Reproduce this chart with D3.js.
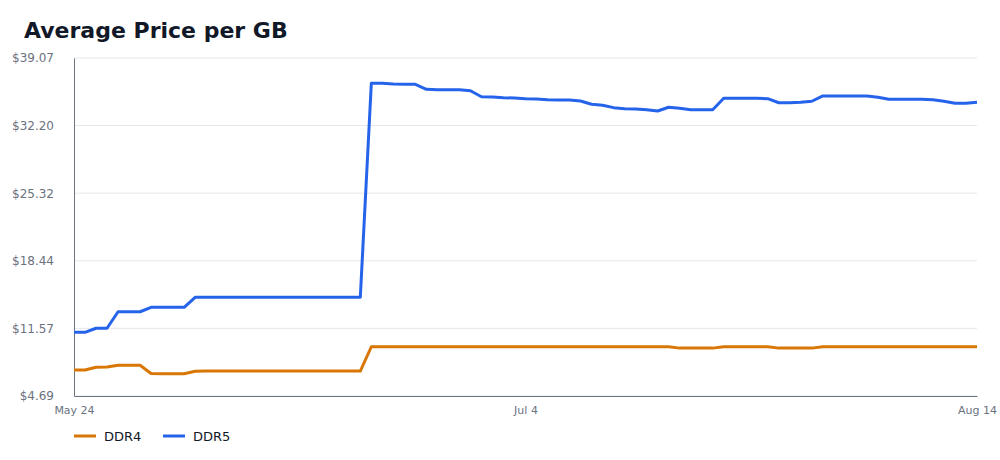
<!DOCTYPE html>
<html>
<head>
<meta charset="utf-8">
<script src="https://cdn.jsdelivr.net/npm/d3@7"></script>
<style>
  body { margin: 0; background: #fff; font-family: "DejaVu Sans", sans-serif; }
</style>
</head>
<body>
<div id="chart"></div>
<script>
// average price per GB, one value per day from May 24 to Aug 14
var start_date = new Date(2024, 4, 24);
var end_date = new Date(2024, 7, 14);

var ddr4 = [
   7.33, 7.33, 7.61, 7.64, 7.81, 7.81, 7.81, 6.98, 6.96, 6.96,
   6.96, 7.20, 7.23, 7.23, 7.23, 7.23, 7.23, 7.23, 7.23, 7.23,
   7.23, 7.23, 7.23, 7.23, 7.23, 7.23, 7.23, 9.70, 9.70, 9.70,
   9.70, 9.70, 9.70, 9.70, 9.70, 9.70, 9.70, 9.70, 9.70, 9.70,
   9.70, 9.70, 9.70, 9.70, 9.70, 9.70, 9.70, 9.70, 9.70, 9.70,
   9.70, 9.70, 9.70, 9.70, 9.70, 9.56, 9.56, 9.56, 9.56, 9.70,
   9.70, 9.70, 9.70, 9.70, 9.56, 9.56, 9.56, 9.56, 9.70, 9.70,
   9.70, 9.70, 9.70, 9.70, 9.70, 9.70, 9.70, 9.70, 9.70, 9.70,
   9.70, 9.70, 9.70
];

var ddr5 = [
   11.17, 11.17, 11.58, 11.58, 13.26, 13.26, 13.26, 13.71, 13.71, 13.71,
   13.71, 14.73, 14.73, 14.73, 14.73, 14.73, 14.73, 14.73, 14.73, 14.73,
   14.73, 14.73, 14.73, 14.73, 14.73, 14.73, 14.73, 36.50, 36.50, 36.43,
   36.39, 36.39, 35.89, 35.85, 35.85, 35.85, 35.74, 35.13, 35.10, 35.03,
   35.00, 34.93, 34.90, 34.83, 34.80, 34.80, 34.70, 34.36, 34.26, 34.02,
   33.91, 33.88, 33.81, 33.68, 34.06, 33.95, 33.81, 33.81, 33.81, 34.97,
   34.97, 34.97, 34.97, 34.93, 34.52, 34.52, 34.56, 34.67, 35.21, 35.21,
   35.21, 35.21, 35.21, 35.07, 34.87, 34.87, 34.87, 34.87, 34.83, 34.67,
   34.46, 34.46, 34.56
];

var series_names = ["DDR4", "DDR5"];
var series_colors = ["#d97706", "#2563eb"];

var y_ticks = [4.69, 11.57, 18.44, 25.32, 32.20, 39.07];
var x_tick_dates = [new Date(2024, 4, 24), new Date(2024, 6, 4), new Date(2024, 7, 14)];
var x_tick_labels = ["May 24", "Jul 4", "Aug 14"];

var width = 1000;
var height = 460;
var margin = {top: 58, right: 23, bottom: 64, left: 74};

var svg = d3.select("#chart").append("svg")
   .attr("width", width)
   .attr("height", height);

// title
svg.append("text")
   .attr("x", 24)
   .attr("y", 38)
   .attr("font-size", 22)
   .attr("font-weight", "bold")
   .attr("fill", "#111827")
   .text("Average Price per GB");

var x = d3.scaleTime()
   .domain([start_date, end_date])
   .range([margin.left, width - margin.right]);

var y = d3.scaleLinear()
   .domain([y_ticks[0], y_ticks[y_ticks.length - 1]])
   .range([height - margin.bottom, margin.top]);

// build date for each day index
function day_date(i) {
   var d = new Date(start_date);
   d.setDate(d.getDate() + i);
   return d;
}

// grid lines
svg.append("g")
   .selectAll("line")
   .data(y_ticks)
   .enter().append("line")
   .attr("x1", margin.left)
   .attr("x2", width - margin.right)
   .attr("y1", function (d) { return y(d); })
   .attr("y2", function (d) { return y(d); })
   .attr("stroke", "#e5e7eb")
   .attr("stroke-width", 1);

// y axis
var y_axis = svg.append("g")
   .attr("transform", "translate(" + margin.left + ",0)")
   .call(d3.axisLeft(y)
      .tickValues(y_ticks)
      .tickSize(0)
      .tickPadding(20)
      .tickFormat(function (d) { return "$" + d.toFixed(2); }));
y_axis.select(".domain").attr("stroke", "#6b7280");
y_axis.selectAll("text")
   .attr("font-family", "DejaVu Sans, sans-serif")
   .attr("font-size", 12)
   .attr("fill", "#6b7280");

// x axis
var x_axis = svg.append("g")
   .attr("transform", "translate(0," + (height - margin.bottom) + ")")
   .call(d3.axisBottom(x)
      .tickValues(x_tick_dates)
      .tickSize(0)
      .tickPadding(10)
      .tickFormat(function (d, i) { return x_tick_labels[i]; }));
x_axis.select(".domain").attr("stroke", "#6b7280");
x_axis.selectAll("text")
   .attr("font-family", "DejaVu Sans, sans-serif")
   .attr("font-size", 11)
   .attr("fill", "#6b7280");

// lines, nearly straight segments between daily points
var line = d3.line()
   .x(function (d, i) { return x(day_date(i)); })
   .y(function (d) { return y(d); })
   .curve(d3.curveLinear);

[ddr4, ddr5].forEach(function (values, k) {
   svg.append("path")
      .datum(values)
      .attr("d", line)
      .attr("fill", "none")
      .attr("stroke", series_colors[k])
      .attr("stroke-width", 3)
      .attr("stroke-linejoin", "round");
});

// legend
var legend = svg.append("g")
   .selectAll("g")
   .data(series_names)
   .enter().append("g")
   .attr("transform", function (d, i) { return "translate(" + (74 + i * 89) + ",436)"; });

legend.append("line")
   .attr("x1", 0)
   .attr("x2", 22)
   .attr("stroke", function (d, i) { return series_colors[i]; })
   .attr("stroke-width", 3);

legend.append("text")
   .attr("x", 30)
   .attr("dy", "0.35em")
   .attr("font-size", 13)
   .attr("fill", "#111827")
   .text(function (d) { return d; });
</script>
</body>
</html>
